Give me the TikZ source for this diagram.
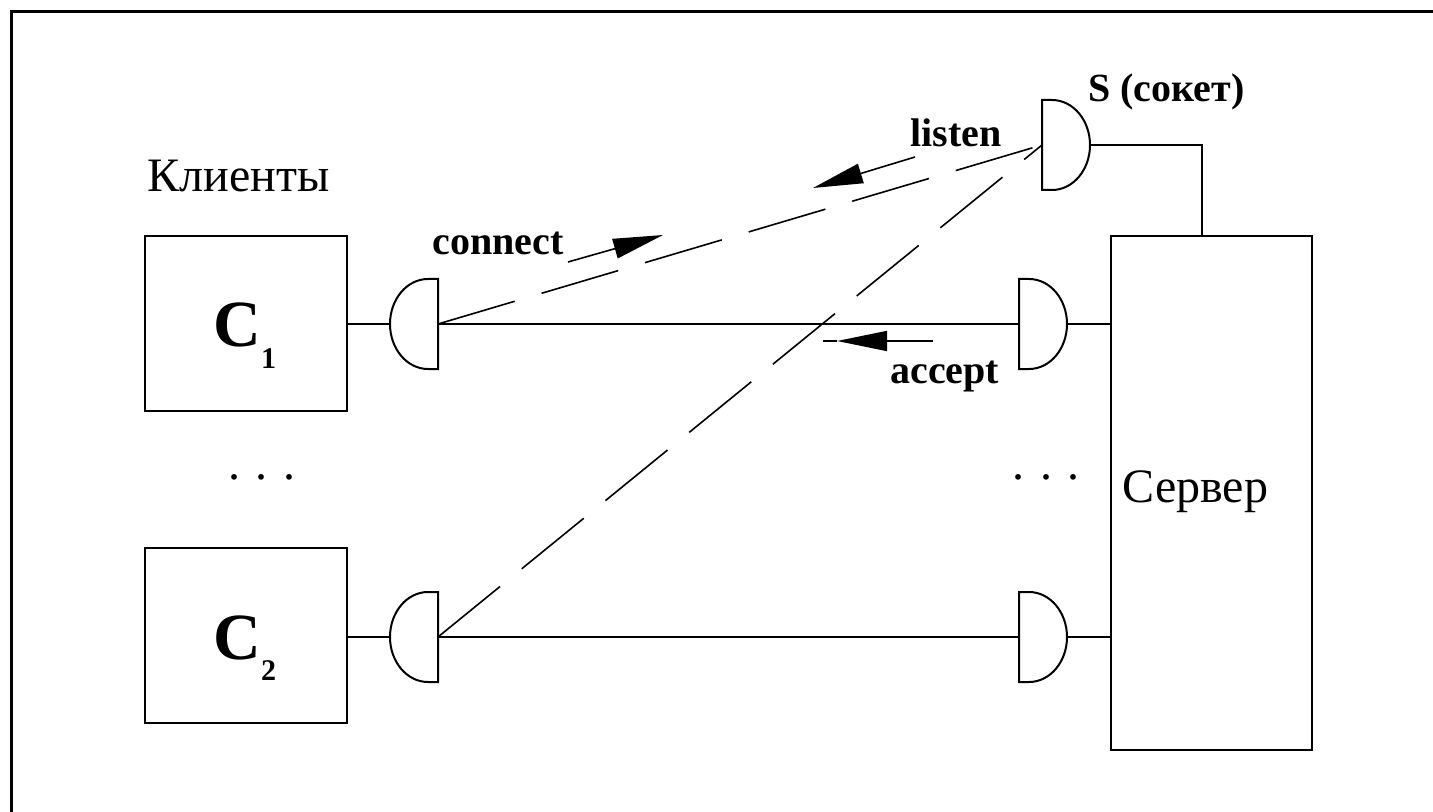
\documentclass[tikz,border=0pt]{standalone}
\usepackage{fontspec}
\setmainfont{Liberation Serif}
\usetikzlibrary{arrows.meta}
\begin{document}
\begin{tikzpicture}[x=0.5pt,y=-0.5pt,
  box/.style={draw,line width=1pt,inner sep=0pt},
  wire/.style={line width=1pt},
  dashline/.style={line width=0.8pt,dash pattern=on 40pt off 14pt},
  lbl/.style={font=\fontsize{20}{24}\selectfont\bfseries,inner sep=0pt},
  txt/.style={font=\fontsize{24}{28}\selectfont,inner sep=0pt},
  big/.style={font=\fontsize{33}{36}\selectfont\bfseries,inner sep=0pt},
  head/.style={line width=0.8pt,-{Triangle[length=25pt,width=10pt]}},
  % socket with its flat side to the right (client side)
  csock/.pic={
    \draw[wire,fill=white] (0,-45) -- (-10,-45)
      arc[start angle=90,end angle=270,x radius=19pt,y radius=22.5pt]
      -- (0,45) -- cycle;
    \coordinate (-flat) at (0,0);
    \coordinate (-round) at (-48,0);},
  % socket with its flat side to the left (server side)
  ssock/.pic={
    \draw[wire,fill=white] (0,-45) -- (10,-45)
      arc[start angle=90,end angle=-90,x radius=19pt,y radius=22.5pt]
      -- (0,45) -- cycle;
    \coordinate (-flat) at (0,0);
    \coordinate (-round) at (48,0);}
]
\useasboundingbox (0,0) rectangle (1433,812);
\fill[white] (0,0) rectangle (1433,812);

% frame
\draw[line width=1.5pt] (11,812) -- (11,12) -- (1433,12);

% clients and server
\node[box,minimum width=101pt,minimum height=87.5pt] (c1) at (246,323.5) {};
\node[box,minimum width=101pt,minimum height=87.5pt] (c2) at (246,635.5) {};
\node[box,minimum width=100.5pt,minimum height=257pt] (srv) at (1211.5,493) {};

\node[big,anchor=base west] (c1lbl) at (213,347) {C\raisebox{-10.5pt}{\fontsize{15}{15}\selectfont 1}};
\node[big,anchor=base west] (c2lbl) at (213,659) {C\raisebox{-10.5pt}{\fontsize{15}{15}\selectfont 2}};

% sockets
\pic (s1) at (438,324) {csock};
\pic (s2) at (438,637) {csock};
\pic (t1) at (1019,324) {ssock};
\pic (t2) at (1019,637) {ssock};
\pic (S) at (1042,145) {ssock};

% solid wires
\draw[wire] (c1.east |- s1-round) -- (s1-round);
\draw[wire] (c2.east |- s2-round) -- (s2-round);
\draw[wire] (s1-flat) -- (t1-flat);
\draw[wire] (s2-flat) -- (t2-flat);
\draw[wire] (t1-round) -- (srv.west |- t1-round);
\draw[wire] (t2-round) -- (srv.west |- t2-round);
\draw[wire] (S-round) -| ([xshift=-5pt]srv.north);

% dashed links to the listening socket
\draw[dashline] (s1-flat) -- (S-flat);
\draw[dashline] (s2-flat) -- (S-flat);

% call arrows
\coordinate (conA) at (568,262);
\coordinate (conB) at (663,235);
\coordinate (lisA) at (915,157);
\coordinate (lisB) at (813,188);
\coordinate (accA) at (933,341);
\coordinate (accB) at (837,341);
\coordinate (accC) at (823,341);
\draw[head] (conA) -- (conB);
\draw[head] (lisA) -- (lisB);
\draw[head] (accA) -- (accB);
\draw[line width=0.8pt] (accB) -- (accC);

% labels
\node[txt,anchor=base west] (klient) at (147,192) {Клиенты};
\node[txt,anchor=base west] (server) at (1122,502) {Сервер};
\node[lbl,anchor=base west] (connect) at (432,255) {connect};
\node[lbl,anchor=base west] (listen) at (910,147) {listen};
\node[lbl,anchor=base west] (accept) at (890,383) {accept};
\node[lbl,anchor=base west] (slbl) at (1088,102) {S (сокет)};
\node[txt,anchor=base] (dotsl) at (262,479) {. . .};
\node[txt,anchor=base] (dotsr) at (1046,479) {. . .};
\end{tikzpicture}
\end{document}
